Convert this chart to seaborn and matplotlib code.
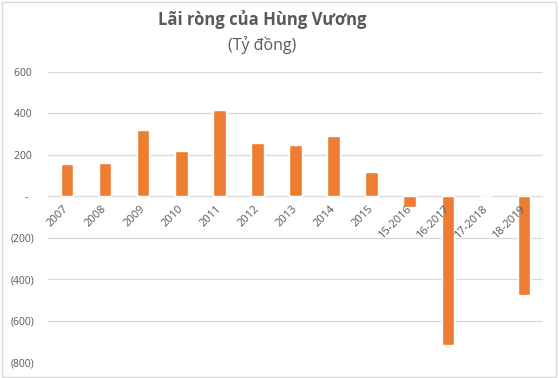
import matplotlib
matplotlib.use("Agg")
import matplotlib.pyplot as plt
import seaborn as sns
import pandas as pd
from matplotlib.ticker import FuncFormatter, FixedLocator
from matplotlib.patches import Rectangle

categories = ["2007", "2008", "2009", "2010", "2011", "2012", "2013", "2014",
              "2015", "15-2016", "16-2017", "17-2018", "18-2019"]
values = [155, 161, 319, 218, 416, 258, 248, 292, 118, -52, -718, 0, -476]
yticks = [600, 400, 200, 0, -200, -400, -600, -800]
title = "Lãi ròng của Hùng Vương"
subtitle = "(Tỷ đồng)"

sns.set_theme(style="white")
plt.rcParams["font.family"] = ["Open Sans", "DejaVu Sans"]

df = pd.DataFrame({"cat": categories, "val": values})

W, H = 559, 378
fig = plt.figure(figsize=(W / 100, H / 100), dpi=100)
ax = fig.add_axes([48 / W, 1 - 362 / H, (543 - 48) / W, (362 - 72) / H])

for yv in yticks:
    ax.axhline(yv, color="#D9D9D9", linewidth=0.9, zorder=0.3)

sns.barplot(data=df, x="cat", y="val", color="#ED7D31", saturation=1,
            width=0.33, ax=ax, zorder=1)

ax.set_axisbelow(False)
ax.set_xlim(-0.5, len(categories) - 0.5)
ax.set_ylim(min(yticks), max(yticks))
ax.yaxis.set_major_locator(FixedLocator(yticks))


def fmt(v, pos):
    v = int(round(v))
    if v == 0:
        return "-  "
    if v < 0:
        return f"({-v})"
    return f"{v} "


ax.yaxis.set_major_formatter(FuncFormatter(fmt))
ax.grid(False)
for s in ["top", "right", "left", "bottom"]:
    ax.spines[s].set_visible(False)
ax.spines["bottom"].set_position(("data", 0))
ax.set_xlabel("")
ax.set_ylabel("")
ax.tick_params(axis="y", length=0, pad=10, labelsize=7.5, labelcolor="#595959")
ax.tick_params(axis="x", length=0, pad=8, labelsize=8, labelcolor="#595959")
for lab in ax.get_xticklabels():
    lab.set_rotation(45)
    lab.set_ha("right")
    lab.set_va("center")
    lab.set_rotation_mode("anchor")

fig.text(262 / W, 1 - 20 / H, title, ha="center", va="center",
         fontsize=12, fontweight="bold", color="#595959")
fig.text(262 / W, 1 - 45 / H, subtitle, ha="center", va="center",
         fontsize=11.5, color="#595959")

fig.patches.append(Rectangle((2 / W, 1 / H), 1 - 5 / W, 1 - 3 / H,
                             transform=fig.transFigure, fill=False,
                             edgecolor="#D9D9D9", linewidth=1))

fig.savefig("out.png", dpi=100, facecolor="white")
